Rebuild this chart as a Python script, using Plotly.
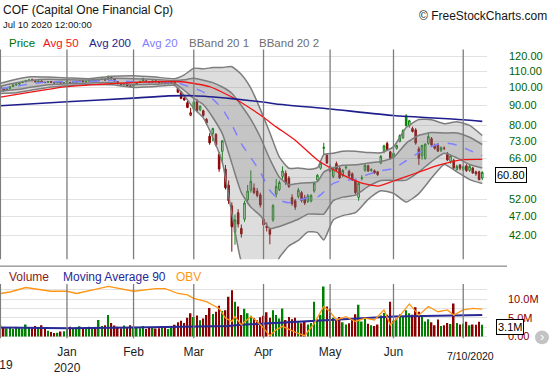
import math
import pandas as pd
import plotly.graph_objects as go

# ---------------- data ----------------
holidays = {"2019-12-25", "2020-01-01", "2020-01-20", "2020-02-17",
            "2020-04-10", "2020-05-25", "2020-07-03"}
dates = [d for d in pd.bdate_range("2019-12-02", "2020-07-10")
         if d.strftime("%Y-%m-%d") not in holidays]
n = len(dates)
idx = list(range(n))

open_ = [100.5, 99.4, 98.4, 99.5, 100.6, 101.5, 102.0, 103.0, 103.5, 104.3, 104.8, 104.0, 103.4, 103.9, 103.1, 103.0, 103.6, 103.2, 102.8, 103.3, 102.5,
         103.2, 103.0, 102.5, 102.9, 103.7, 104.2, 103.4, 103.8, 104.3, 104.8, 104.2, 104.9, 105.0, 104.8, 106.0, 105.2, 103.5, 102.2, 101.6, 102.2, 101.0,
         100.8, 101.8, 103.0, 105.4, 104.0, 103.3, 103.0, 104.0, 103.3, 102.8, 103.0, 102.3, 103.0, 103.0, 99.5, 97.5, 94.0, 91.5, 85.0,
         88.0, 92.0, 87.8, 87.3, 83.0, 75.2, 76.3, 76.0, 67.5, 68.8, 62.0, 56.4, 50.0, 42.8, 48.0, 43.8, 46.2, 51.8, 54.8, 55.5, 54.5, 53.3,
         46.2, 44.3, 43.6, 46.0, 53.5, 55.0, 59.4, 60.5, 58.8, 52.5, 51.5, 52.8, 54.0, 52.5, 51.3, 51.4, 54.5, 58.1, 62.3, 70.0, 67.2,
         63.0, 59.4, 64.0, 62.3, 59.6, 62.5, 61.2, 60.3, 58.0, 52.5, 58.9, 61.6, 63.2, 61.5, 61.4, 61.0, 64.2, 69.2, 72.0, 68.6,
         66.5, 70.0, 72.9, 74.5, 84.7, 80.0, 78.6, 78.0, 69.8, 67.0, 66.0, 72.1, 74.1, 71.2, 71.5, 69.2, 69.9, 68.0, 64.9, 65.3, 61.8, 63.5,
         61.8, 63.2, 61.5, 62.4, 61.0, 61.0, 58.8]
high = [101.0, 99.8, 99.6, 100.8, 101.8, 102.3, 103.2, 104.0, 104.6, 105.2, 105.4, 104.5, 104.2, 104.3, 103.6, 103.9, 103.9, 103.5, 103.6, 103.6, 103.2,
        104.2, 103.5, 103.3, 104.0, 104.5, 104.5, 104.0, 104.6, 105.0, 105.1, 105.2, 105.5, 105.3, 107.3, 106.4, 105.5, 103.9, 102.8, 102.6, 102.5, 101.5,
        102.0, 103.2, 104.0, 106.0, 104.5, 103.9, 104.3, 104.4, 103.6, 103.5, 103.3, 103.2, 103.9, 103.4, 100.0, 98.0, 95.2, 92.4, 88.8,
        92.5, 93.5, 90.0, 87.8, 83.6, 76.5, 79.0, 76.5, 68.5, 73.5, 63.5, 58.0, 51.0, 47.5, 49.0, 44.8, 51.5, 56.5, 61.5, 57.0, 55.5, 54.0,
        47.0, 45.3, 44.0, 50.5, 58.5, 58.0, 63.0, 61.5, 59.5, 53.5, 52.0, 55.5, 54.5, 53.3, 53.6, 53.5, 57.5, 60.2, 64.6, 72.3, 68.0,
        63.8, 62.8, 64.8, 62.8, 62.0, 63.5, 61.8, 60.8, 58.5, 57.5, 59.8, 63.8, 63.6, 62.3, 61.8, 61.3, 67.3, 71.5, 72.8, 69.0,
        68.5, 71.5, 76.0, 78.3, 85.5, 82.8, 79.5, 78.8, 70.8, 71.5, 72.0, 76.5, 74.8, 72.0, 72.2, 70.8, 70.8, 68.5, 67.5, 65.8, 63.6, 63.8,
        63.2, 63.8, 63.5, 62.8, 61.4, 61.4, 61.2]
low = [99.0, 97.5, 98.0, 99.2, 100.3, 101.0, 101.6, 102.6, 103.0, 103.8, 103.9, 103.1, 103.0, 102.9, 102.5, 102.7, 102.8, 102.4, 102.5, 102.3, 102.0,
       102.9, 102.2, 102.0, 102.6, 103.3, 103.1, 103.0, 103.5, 103.9, 103.9, 104.0, 104.4, 104.2, 104.6, 104.8, 103.4, 101.8, 101.2, 101.2, 100.6, 100.2,
       100.5, 101.5, 102.6, 103.6, 103.0, 102.6, 102.8, 103.0, 102.4, 102.3, 102.0, 102.0, 102.6, 101.5, 96.8, 93.4, 92.6, 88.6, 84.5,
       86.5, 86.5, 87.0, 84.3, 80.2, 71.5, 73.0, 70.8, 61.0, 64.0, 55.0, 50.5, 38.2, 39.8, 44.0, 41.5, 45.5, 50.5, 54.0, 53.5, 52.5, 49.5,
       44.0, 43.0, 39.9, 45.5, 52.5, 54.5, 58.5, 56.5, 55.5, 50.0, 48.8, 52.2, 51.0, 50.2, 50.8, 51.0, 54.0, 57.5, 61.8, 67.2, 64.0,
       60.8, 58.8, 61.3, 58.5, 59.2, 61.8, 59.0, 57.8, 53.5, 51.5, 58.0, 61.0, 61.0, 61.0, 60.3, 59.6, 63.8, 68.0, 69.0, 65.5,
       66.0, 69.5, 72.5, 74.0, 79.5, 79.0, 76.8, 71.5, 63.5, 65.5, 65.5, 71.5, 71.0, 69.5, 68.5, 68.5, 69.3, 65.0, 64.0, 62.0, 61.5, 61.5,
       61.3, 61.0, 61.0, 60.3, 59.6, 58.0, 58.2]
close = [99.5, 98.2, 99.3, 100.5, 101.6, 102.0, 102.9, 103.7, 104.2, 104.4, 104.0, 103.4, 103.9, 103.2, 103.0, 103.6, 103.1, 102.7, 103.3, 102.6, 102.9,
         103.9, 102.6, 102.9, 103.7, 104.1, 103.4, 103.8, 104.3, 104.7, 104.2, 104.9, 105.1, 104.5, 106.4, 105.2, 103.7, 102.2, 101.6, 102.3, 100.9, 100.6,
         101.6, 102.9, 103.7, 104.0, 103.4, 103.0, 104.0, 103.3, 102.8, 103.1, 102.3, 102.9, 103.5, 101.9, 97.3, 93.8, 92.9, 89.0, 86.3,
         91.9, 87.3, 89.6, 84.9, 81.2, 72.3, 78.6, 71.4, 62.0, 73.2, 55.6, 51.5, 44.2, 46.0, 44.9, 42.4, 50.8, 54.5, 57.7, 54.0, 53.1, 50.2,
         44.7, 44.0, 42.3, 50.0, 56.0, 57.3, 61.3, 57.2, 56.0, 50.6, 49.6, 54.8, 51.6, 50.8, 53.0, 53.1, 57.1, 59.8, 64.2, 70.4, 64.2,
         61.2, 62.3, 61.8, 58.9, 61.5, 62.7, 59.5, 58.2, 54.0, 57.0, 58.7, 63.4, 61.3, 61.8, 60.6, 60.0, 66.8, 71.0, 69.4, 66.1,
         68.0, 71.2, 75.5, 77.7, 80.0, 82.3, 77.3, 72.2, 66.0, 71.2, 71.8, 75.0, 71.4, 70.0, 68.9, 70.3, 70.1, 65.4, 67.0, 62.4, 63.0, 62.3,
         62.9, 61.4, 63.0, 60.6, 60.3, 58.3, 60.8]
volume_m = [3.1, 2.5, 2.2, 2.4, 2.0, 2.6, 2.3, 2.1, 3.2, 2.4, 2.2, 2.8, 2.5, 3.0, 2.3, 1.5, 1.2, 0.9, 1.0, 1.3, 1.4,
            2.2, 2.6, 2.0, 2.4, 2.7, 2.1, 2.3, 2.6, 2.2, 2.5, 4.4, 2.8, 3.0, 5.7, 3.6, 2.9, 2.6, 2.2, 2.9, 2.4, 3.0,
            2.6, 2.4, 2.2, 2.8, 2.0, 2.3, 2.5, 2.1, 2.2, 2.6, 2.4, 2.0, 2.3, 3.1, 3.8, 4.2, 3.6, 5.0, 6.2,
            5.2, 5.6, 4.3, 4.8, 5.7, 7.6, 6.0, 6.6, 8.2, 6.8, 7.0, 10.6, 12.4, 9.3, 8.0, 5.7, 7.4, 6.2, 5.5, 4.9, 4.3, 5.1,
            5.5, 6.5, 5.0, 7.0, 5.7, 4.8, 7.5, 4.4, 5.2, 4.6, 5.0, 3.8, 3.5, 4.1, 3.2, 3.6, 9.3, 4.6, 5.8, 13.4, 8.0,
            7.5, 5.0, 4.6, 5.2, 3.8, 3.2, 3.5, 4.4, 5.9, 8.5, 4.0, 5.0, 3.4, 3.0, 2.8, 3.2, 5.6, 6.3, 5.8, 9.3,
            4.2, 4.8, 5.9, 5.3, 7.0, 6.2, 5.8, 7.8, 6.6, 5.2, 4.0, 4.6, 3.8, 3.0, 4.5, 2.8, 3.0, 3.6, 3.3, 8.8, 3.6, 3.2,
            3.4, 3.9, 3.0, 3.2, 3.1, 3.9, 3.1]
for arr in (open_, high, low, close, volume_m):
    assert len(arr) == n, (len(arr), n)

# indicator readings (trading-day index, value)
avg200_idx = [0, 21, 42, 53, 61, 73, 84, 87, 104, 124, 146, 152]
avg200_val = [89.9, 92.0, 94.0, 95.2, 95.3, 93.7, 91.6, 90.8, 88.2, 84.9, 82.8, 82.0]

avg50_idx = [0, 10, 21, 31, 42, 53, 58, 66, 73, 82, 87, 93, 100, 108, 114, 119, 124, 131, 137, 141, 146, 152]
avg50_val = [94.5, 97.5, 100.5, 101.8, 103.0, 103.6, 103.3, 100.5, 94.6, 85.1, 79.4, 73.4, 65.4, 59.9, 57.1, 56.1,
             57.8, 60.5, 63.0, 64.3, 65.5, 65.6]

bb_idx = [0, 5, 10, 15, 21, 28, 35, 42, 49, 55, 58, 61, 64, 67, 70, 73, 76, 79, 82, 85, 88, 91, 94, 97, 100,
          102, 105, 108, 112, 116, 120, 124, 128, 132, 136, 140, 144, 148, 152]
avg20_val = [99.3, 100.8, 102.3, 103.3, 103.4, 103.6, 104.2, 103.5, 103.4, 103.2, 101.5, 99.7, 97.4, 93.4, 88.3,
             80.4, 72.0, 66.3, 60.9, 54.7, 51.7, 50.9, 51.6, 52.4, 52.6, 54.2, 57.0, 58.0, 58.4, 60.1, 61.4, 62.2,
             65.1, 68.3, 70.8, 72.3, 71.4, 69.2, 67.0]
bb2_up = [102.5, 105.0, 106.5, 106.3, 105.8, 105.3, 106.8, 107.2, 106.3, 105.3, 107.7, 112.0, 111.5, 112.5, 112.5,
          113.0, 108.0, 99.7, 88.0, 76.7, 66.5, 62.3, 62.4, 61.9, 62.5, 67.5, 68.0, 68.8, 68.8, 68.3, 68.2, 70.6,
          79.1, 82.9, 82.8, 80.9, 81.8, 80.1, 75.5]
bb2_lo = [96.5, 97.0, 98.5, 100.0, 101.0, 101.8, 101.6, 100.0, 100.6, 101.2, 95.3, 88.5, 83.7, 74.6, 64.5,
          47.8, 36.0, 33.0, 33.0, 32.7, 36.9, 39.5, 40.8, 42.9, 42.7, 40.9, 46.0, 47.2, 48.0, 51.9, 54.6, 53.8,
          51.1, 53.7, 58.8, 63.7, 61.0, 58.3, 57.0]
bb1_up = [100.8, 102.8, 104.3, 104.9, 104.6, 104.5, 105.5, 105.3, 104.8, 104.2, 104.6, 105.6, 104.4, 102.9, 100.3,
          96.7, 90.0, 83.0, 74.7, 65.7, 59.1, 56.6, 57.0, 57.2, 57.6, 60.9, 62.5, 63.4, 63.6, 64.2, 64.8, 66.4,
          72.1, 75.6, 76.8, 76.6, 76.6, 74.7, 71.6]
bb1_lo = [97.8, 98.8, 100.3, 101.7, 102.2, 102.7, 102.9, 101.7, 102.0, 102.2, 98.4, 93.8, 90.5, 83.9, 76.3,
          64.1, 54.0, 49.6, 47.2, 43.7, 44.3, 45.2, 46.2, 47.6, 47.6, 47.6, 51.5, 52.6, 53.2, 56.0, 58.0, 58.0,
          58.1, 61.0, 64.8, 68.0, 66.2, 63.7, 62.4]

volma_idx = [0, 21, 42, 61, 72, 76, 84, 87, 104, 124, 138, 152]
volma_val = [2.4, 2.2, 2.4, 2.6, 2.8, 3.1, 3.5, 3.5, 4.4, 5.3, 5.6, 5.7]

obv_idx = [0, 3, 8, 16, 21, 24, 31, 34, 42, 49, 52, 56, 59, 61, 65, 67, 69, 71, 73, 74, 76, 79, 81, 83, 85, 87,
           89, 93, 96, 99, 102, 104, 106, 109, 112, 115, 118, 121, 123, 126, 129, 132, 135, 138, 141, 143, 146, 149, 152]
obv_val = [11.5, 11.9, 13.1, 12.1, 12.1, 11.5, 12.8, 13.4, 12.1, 12.8, 12.8, 11.5, 11.1, 10.2, 9.3, 8.4, 7.5, 4.9,
           4.0, 5.3, 3.1, 5.3, 4.0, 2.2, 0.2, 1.8, 2.7, 1.1, 0.2, 3.5, 8.0, 6.6, 4.4, 5.3, 4.0, 4.9, 4.4, 7.1, 3.1,
           5.5, 8.7, 5.7, 8.0, 6.6, 7.1, 5.7, 7.1, 7.5, 7.3]

price_ticks = [42, 47, 52, 59, 66, 73, 80, 90, 100, 110, 120]
vol_ticks = [0, 2.5, 5, 7.5, 10, 12.5]
vol_ticktext = ["0.00", "", "5.0M", "", "10.0M", ""]

# ---------------- layout geometry ----------------
W, H = 550, 375
def py(p):  # paper y from pixel y
    return 1 - p / H
X1 = 487 / W
PRICE_DOM = [py(262), py(50)]
VOL_DOM = [py(342), py(287)]
XRANGE = [-0.13, 153.5]

GREEN = "rgb(0,128,0)"
RED = "rgb(139,0,0)"
BAND_LINE = "rgb(125,125,125)"
FONT = "Liberation Sans, Arial, sans-serif"

fig = go.Figure()

def sc(xv, yv, **kw):
    base = dict(x=xv, y=yv, mode="lines", hoverinfo="skip", showlegend=False, xaxis="x", yaxis="y")
    base.update(kw)
    return go.Scatter(**base)

# band fills
fig.add_trace(sc(bb_idx, bb2_up, line=dict(width=0, shape="spline", smoothing=0.5)))
fig.add_trace(sc(bb_idx, bb2_lo, line=dict(width=0, shape="spline", smoothing=0.5),
                 fill="tonexty", fillcolor="rgba(128,128,128,0.27)"))
fig.add_trace(sc(bb_idx, bb1_up, line=dict(width=0, shape="spline", smoothing=0.5)))
fig.add_trace(sc(bb_idx, bb1_lo, line=dict(width=0, shape="spline", smoothing=0.5),
                 fill="tonexty", fillcolor="rgba(120,120,120,0.24)"))
for arr in (bb2_up, bb2_lo, bb1_up, bb1_lo):
    fig.add_trace(sc(bb_idx, arr, line=dict(width=1.5, color=BAND_LINE, shape="spline", smoothing=0.5)))

fig.add_trace(sc(bb_idx, avg20_val, line=dict(width=1.5, color="rgb(128,128,255)", dash="dash",
                                                 shape="spline", smoothing=0.5)))
fig.add_trace(sc(avg50_idx, avg50_val, line=dict(width=1.3, color="rgb(240,20,20)", shape="spline", smoothing=0.5)))
fig.add_trace(sc(avg200_idx, avg200_val, line=dict(width=1.6, color="rgb(30,30,140)", shape="spline", smoothing=0.5)))

# candles: colour by close vs previous close, fill by close vs open
prev = [open_[0]] + close[:-1]
up = [i for i in idx if close[i] >= prev[i]]
dn = [i for i in idx if close[i] < prev[i]]
for sel, col in ((up, GREEN), (dn, RED)):
    fig.add_trace(go.Candlestick(
        x=sel, open=[open_[i] for i in sel], high=[high[i] for i in sel],
        low=[low[i] for i in sel], close=[close[i] for i in sel],
        increasing=dict(line=dict(color=col, width=1), fillcolor="white"),
        decreasing=dict(line=dict(color=col, width=1), fillcolor=col),
        whiskerwidth=0, hoverinfo="skip", showlegend=False, xaxis="x", yaxis="y"))

# volume panel
vcols = [GREEN if close[i] >= prev[i] else RED for i in idx]
fig.add_trace(go.Bar(x=idx, y=volume_m, marker=dict(color=vcols, line=dict(width=0)), width=0.5,
                     hoverinfo="skip", showlegend=False, xaxis="x2", yaxis="y2"))
fig.add_trace(go.Scatter(x=volma_idx, y=volma_val, mode="lines", line=dict(color="rgb(40,40,150)", width=2),
                         hoverinfo="skip", showlegend=False, xaxis="x2", yaxis="y2"))
fig.add_trace(go.Scatter(x=obv_idx, y=obv_val, mode="lines", line=dict(color="rgb(255,150,20)", width=1.3),
                         hoverinfo="skip", showlegend=False, xaxis="x2", yaxis="y3"))

# month lines (drawn above the marks)
month_starts = [i for i in idx if i == 0 or dates[i].month != dates[i - 1].month]
month_text = {12: "", 1: "Jan<br>2020", 2: "Feb", 3: "Mar", 4: "Apr", 5: "May", 6: "Jun", 7: ""}
shapes = []
for m in month_starts:
    shapes.append(dict(type="line", xref="x", yref="paper", x0=m, x1=m, y0=PRICE_DOM[0], y1=PRICE_DOM[1],
                       line=dict(color="rgb(125,125,125)", width=1.3), layer="above"))
    shapes.append(dict(type="line", xref="x2", yref="paper", x0=m, x1=m, y0=VOL_DOM[0], y1=VOL_DOM[1],
                       line=dict(color="rgb(125,125,125)", width=1.3), layer="above"))
shapes.append(dict(type="line", xref="paper", yref="paper", x0=0, x1=507 / W, y0=py(269), y1=py(269),
                   line=dict(color="rgb(110,110,110)", width=1)))
shapes.append(dict(type="circle", xref="paper", yref="paper", x0=535 / W, x1=549 / W, y0=py(348), y1=py(334),
                   fillcolor="rgb(195,195,195)", line=dict(width=0)))

def ann(xp, yp, text, size, color, anchor="left", **kw):
    d = dict(x=xp / W, y=py(yp), xref="paper", yref="paper", text=text, showarrow=False,
             xanchor=anchor, yanchor="middle", font=dict(family=FONT, size=size, color=color))
    d.update(kw)
    return d

annotations = [
    ann(1, 10, "COF (Capital One Financial Cp)", 12, "rgb(20,20,20)"),
    ann(1, 25, "Jul 10 2020 12:00:00", 9.5, "rgb(20,20,20)"),
    ann(549, 16, "© FreeStockCharts.com", 12, "rgb(20,20,20)", anchor="right"),
    ann(7, 43, "Price", 11.5, "rgb(0,110,0)"),
    ann(41, 43, "Avg 50", 11.5, "rgb(240,20,20)"),
    ann(87, 43, "Avg 200", 11.5, "rgb(30,30,140)"),
    ann(140, 43, "Avg 20", 11.5, "rgb(128,128,255)"),
    ann(187, 43, "BBand 20 1", 11.5, "rgb(110,110,110)"),
    ann(257, 43, "BBand 20 2", 11.5, "rgb(110,110,110)"),
    ann(7, 280, "Volume", 12, "rgb(139,26,26)"),
    ann(61, 280, "Moving Average 90", 12, "rgb(40,40,150)"),
    ann(174, 280, "OBV", 12, "rgb(255,150,20)"),
    ann(-1, 369, "2019", 12, "rgb(30,30,30)", anchor="center"),
    ann(470, 360, dates[-1].strftime("%-m/%-d/%Y"), 10.5, "rgb(20,20,20)", anchor="center"),
    ann(542, 340, "›", 13, "white", anchor="center"),
    dict(x=526.5 / W, xref="paper", y=math.log10(close[-1]), yref="y", yshift=-3, text=f"{close[-1]:.2f}",
         showarrow=False, bordercolor="black", borderwidth=1, borderpad=1, bgcolor="white",
         font=dict(family=FONT, size=11, color="black")),
    dict(x=524 / W, xref="paper", y=volume_m[-1], yref="y2", yshift=-2, text=f"{volume_m[-1]:.1f}M",
         showarrow=False, bordercolor="black", borderwidth=1, borderpad=1, bgcolor="white",
         font=dict(family=FONT, size=11, color="black")),
]

fig.update_layout(
    width=W, height=H, autosize=False, margin=dict(l=0, r=0, t=0, b=0),
    paper_bgcolor="white", plot_bgcolor="white",
    font=dict(family=FONT, size=11, color="rgb(20,20,20)"),
    showlegend=False, shapes=shapes, annotations=annotations, boxmode="overlay",
    xaxis=dict(domain=[0, X1], range=XRANGE, anchor="y", showgrid=False, zeroline=False,
               showticklabels=False, ticks="", rangeslider=dict(visible=False), fixedrange=True),
    yaxis=dict(domain=PRICE_DOM, type="log",
               range=[math.log10(36.55), math.log10(125.0)], anchor="x", side="right",
               tickvals=price_ticks,
               ticktext=["" if v == 59 else f"{v:.2f}" for v in price_ticks],
               showgrid=True, gridcolor="rgb(226,226,226)", gridwidth=1, zeroline=False, ticks="",
               ticklabelstandoff=21, tickfont=dict(size=11, color="rgb(0,100,0)"), fixedrange=True),
    xaxis2=dict(domain=[0, X1], range=XRANGE, anchor="y2", showgrid=False, zeroline=False,
                tickvals=month_starts, ticktext=[month_text[dates[m].month] for m in month_starts],
                ticks="", ticklabelstandoff=5, tickfont=dict(size=12, color="rgb(30,30,30)"),
                rangeslider=dict(visible=False), fixedrange=True),
    yaxis2=dict(domain=VOL_DOM, range=[-0.53, 14.06], anchor="x2", side="right",
                tickvals=vol_ticks, ticktext=vol_ticktext, showgrid=True, gridcolor="rgb(226,226,226)",
                zeroline=False, ticks="", ticklabelstandoff=20,
                tickfont=dict(size=11, color="rgb(139,0,0)"), fixedrange=True),
    yaxis3=dict(domain=VOL_DOM, range=[-0.53, 14.06], overlaying="y2", anchor="x2", visible=False,
                fixedrange=True),
)

fig.write_html("out.html", config={"displayModeBar": False},
               post_script="document.body.style.margin='0';document.body.style.overflow='hidden';")
